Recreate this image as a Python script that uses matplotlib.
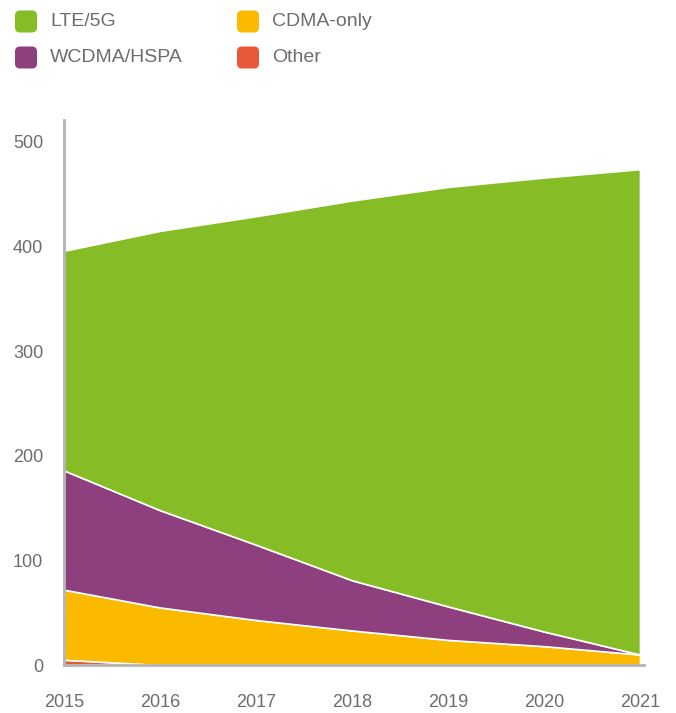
import matplotlib
matplotlib.use("Agg")
import matplotlib.pyplot as plt
from matplotlib.patches import FancyBboxPatch

# data (millions of subscriptions)
years = [2015, 2016, 2017, 2018, 2019, 2020, 2021]
other = [5, 0, 0, 0, 0, 0, 0]
cdma = [67, 55, 43, 33, 24, 18, 10]
wcdma = [114, 93, 72, 48, 32, 14, 0]
lte = [210, 267, 314, 363, 401, 434, 464]

labels = ["LTE/5G", "CDMA-only", "WCDMA/HSPA", "Other"]
colors = {"LTE/5G": "#86bc25", "CDMA-only": "#fbb900",
          "WCDMA/HSPA": "#8e3f7e", "Other": "#e8593a"}

plt.rcParams['font.family'] = ['Liberation Sans', 'DejaVu Sans']
txt = "#6d6d6d"

fig = plt.figure(figsize=(6.76, 7.13), dpi=100)
ax = fig.add_axes([64/676, 48/713, 580/676, 545/713])

ax.stackplot(years, other, cdma, wcdma, lte,
             colors=[colors["Other"], colors["CDMA-only"],
                     colors["WCDMA/HSPA"], colors["LTE/5G"]],
             edgecolor="white", linewidth=1.2)

ax.set_xlim(2015, 2021 + 4/95.8)
ax.set_ylim(0, 521)
ax.set_xticks(years)
ax.set_yticks([0, 100, 200, 300, 400, 500])
ax.tick_params(length=0, labelsize=13, colors=txt)
ax.tick_params(axis="y", pad=15)
ax.tick_params(axis="x", pad=21)
for s in ["top", "right"]:
    ax.spines[s].set_visible(False)
for s in ["left", "bottom"]:
    ax.spines[s].set_color("#b4b4b4")
    ax.spines[s].set_linewidth(2)
    ax.spines[s].set_zorder(5)

# legend drawn by hand with rounded squares
pos = {"LTE/5G": (15, 21.5), "WCDMA/HSPA": (15, 57.5),
       "CDMA-only": (237, 21.5), "Other": (237, 57.5)}
for lab in labels:
    x, yc = pos[lab]
    box = FancyBboxPatch((x/100, (713 - yc - 11)/100), 0.22, 0.22,
                         boxstyle="round,pad=0,rounding_size=0.05",
                         facecolor=colors[lab], edgecolor="none",
                         transform=fig.dpi_scale_trans)
    fig.add_artist(box)
    fig.text((x + 35)/676, 1 - yc/713, lab, fontsize=14, color=txt,
             va="center", ha="left")

fig.savefig("out.png", dpi=100)
